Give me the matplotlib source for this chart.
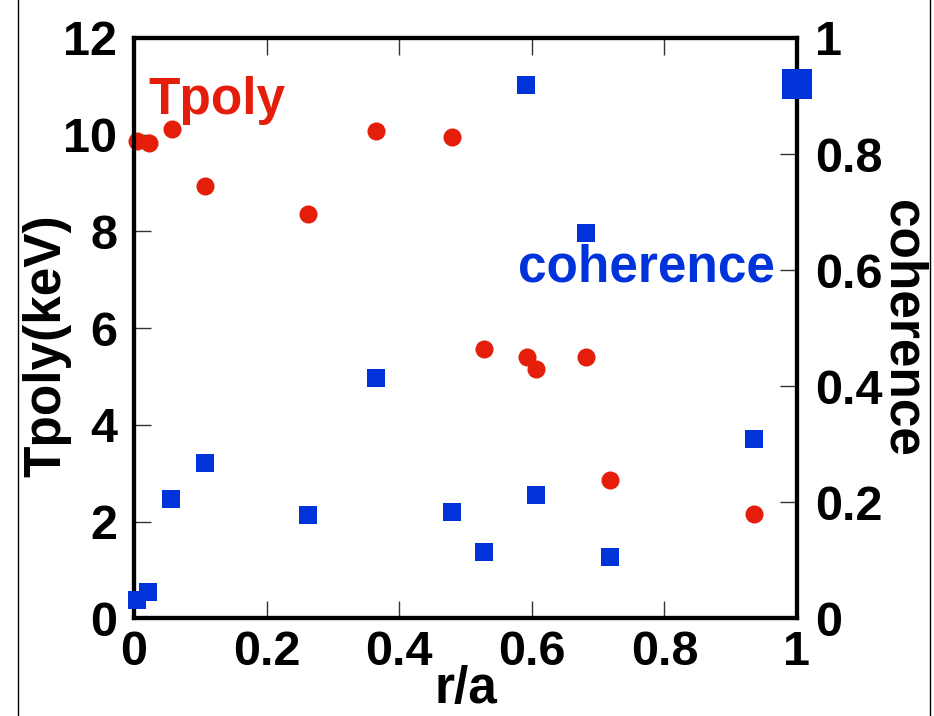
import matplotlib
matplotlib.use("Agg")
import matplotlib.pyplot as plt
from matplotlib.lines import Line2D

plt.rcParams['font.family'] = ['Liberation Sans', 'DejaVu Sans']
plt.rcParams['font.weight'] = 'bold'

# electron temperature from polychromator
r_tpoly = [0.004, 0.022, 0.057, 0.107, 0.262, 0.365, 0.479, 0.528, 0.593, 0.606, 0.682, 0.718, 0.935]
tpoly = [9.86, 9.82, 10.11, 8.93, 8.36, 10.07, 9.95, 5.57, 5.41, 5.16, 5.41, 2.86, 2.16]

# coherence
r_coh = [0.004, 0.021, 0.056, 0.107, 0.262, 0.365, 0.479, 0.528, 0.592, 0.607, 0.681, 0.718, 0.935]
coh = [0.032, 0.046, 0.205, 0.267, 0.178, 0.414, 0.183, 0.114, 0.919, 0.213, 0.664, 0.106, 0.309]
r_ref = [1.0]
coh_ref = [0.921]

xticks = [0, 0.2, 0.4, 0.6, 0.8, 1]
xticklabels = ['0', '0.2', '0.4', '0.6', '0.8', '1']
yticks = [0, 2, 4, 6, 8, 10, 12]
yticklabels = ['0', '2', '4', '6', '8', '10', '12']
y2ticks = [0, 0.2, 0.4, 0.6, 0.8, 1]
y2ticklabels = ['0', '0.2', '0.4', '0.6', '0.8', '1']

red = '#e41e0a'
blue = '#0033d9'
tick_fs = 35
label_fs = 37

fig = plt.figure(figsize=(9.34, 7.16), dpi=100)
ax = fig.add_axes([0.1435, 0.1362, 0.7098, 0.8108])
ax2 = ax.twinx()

ax.plot(r_tpoly, tpoly, 'o', color=red, markersize=13, markeredgewidth=0,
        clip_on=False, zorder=5)
ax2.plot(r_coh, coh, 's', color=blue, markersize=13.5, markeredgewidth=0,
         clip_on=False, zorder=5)
ax2.plot(r_ref, coh_ref, 's', color=blue, markersize=21, markeredgewidth=0,
         clip_on=False, zorder=5)

ax.set_xlim(0, 1)
ax.set_ylim(0, 12)
ax2.set_ylim(0, 1)

ax.set_xticks(xticks)
ax.set_xticklabels(xticklabels, fontsize=tick_fs, fontweight='bold')
ax.set_yticks(yticks)
ax.set_yticklabels(yticklabels, fontsize=tick_fs, fontweight='bold')
ax2.set_yticks(y2ticks)
ax2.set_yticklabels(y2ticklabels, fontsize=tick_fs, fontweight='bold')

ax.tick_params(axis='both', direction='in', length=12, width=1, color='#333333')
ax.tick_params(axis='x', top=True, pad=8)
ax.tick_params(axis='y', right=False, pad=12)
ax2.tick_params(axis='y', direction='in', length=12, width=1, color='#333333', pad=13)

for a in (ax, ax2):
    for s in a.spines.values():
        s.set_linewidth(3)

ax.set_xlabel('r/a', fontsize=label_fs, fontweight='bold', labelpad=-7)
ax.set_ylabel('Tpoly(keV)', fontsize=label_fs, fontweight='bold')
ax.yaxis.set_label_coords(-0.094, 0.47)
ax2.set_ylabel('coherence', fontsize=label_fs, fontweight='bold', rotation=270)
ax2.yaxis.set_label_coords(1.196, 0.5)

ax.text(0.021, 0.893, 'Tpoly', transform=ax.transAxes, color=red,
        fontsize=label_fs, fontweight='bold', ha='left', va='center')
ax.text(0.579, 0.604, 'coherence', transform=ax.transAxes, color=blue,
        fontsize=label_fs, fontweight='bold', ha='left', va='center')

# frame edges of the neighbouring panels
fig.add_artist(Line2D([18 / 934, 18 / 934], [0, 1], color='black', linewidth=1))
fig.add_artist(Line2D([930 / 934, 930 / 934], [0, 1], color='black', linewidth=1))

fig.savefig('out.png', dpi=100)
